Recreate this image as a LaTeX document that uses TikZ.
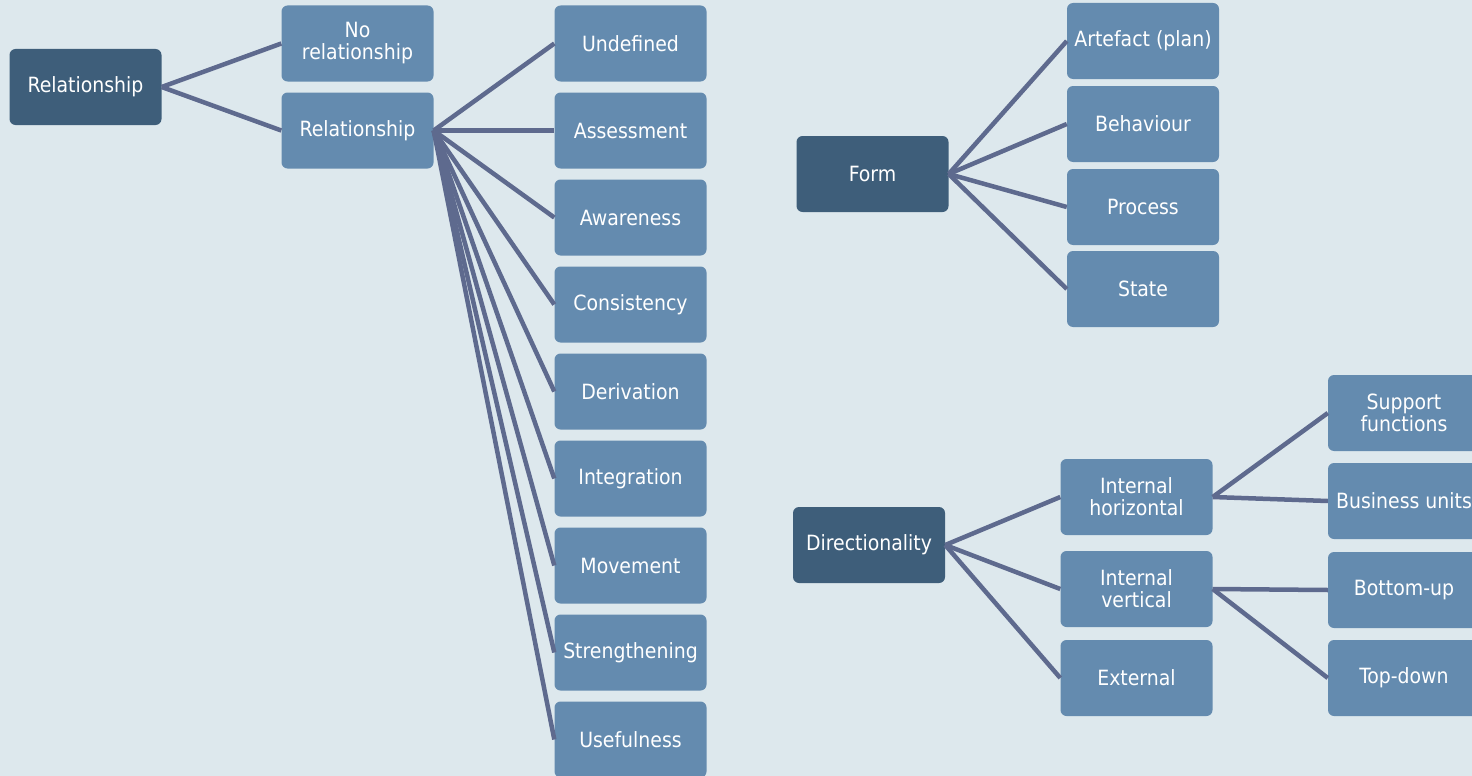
\documentclass[tikz,border=0pt]{standalone}
\usepackage{fontspec}
\setmainfont{DejaVu Sans Condensed}
\begin{document}
\begin{tikzpicture}[x=1pt,y=-1pt,
  box/.style={rounded corners=6pt, minimum width=152pt, minimum height=76pt,
    inner sep=2pt, align=center, text=white,
    font=\fontsize{21}{22}\selectfont},
  rootbox/.style={box, fill=rootblue},
  leafbox/.style={box, fill=leafblue},
  link/.style={draw=linkslate, line width=4.5pt}]
\definecolor{bgcol}{HTML}{DDE8ED}
\definecolor{rootblue}{HTML}{3E5E7A}
\definecolor{leafblue}{HTML}{648BAF}
\definecolor{linkslate}{HTML}{5E6A8E}
\fill[bgcol] (0,0) rectangle (1472,776);
\useasboundingbox (0,0) rectangle (1472,776);
\begin{scope}
\clip (0,0) rectangle (1472,776);

% Relationship tree
\node[rootbox] (rel) at (85.5,87) {Relationship};
\node[leafbox] (norel) at (357.5,43.5) {No\\relationship};
\node[leafbox] (yesrel) at (357.5,130.5) {Relationship};
\foreach \t [count=\i from 0] in {Undefined,Assessment,Awareness,Consistency,Derivation,Integration,Movement,Strengthening,Usefulness}
  \node[leafbox] (kind\i) at (630.5,43.5+87*\i) {\t};

% Form tree
\node[rootbox] (form) at (872.5,174) {Form};
\node[leafbox] (artefact) at (1143,41) {Artefact (plan)};
\node[leafbox] (behaviour) at (1143,124) {Behaviour};
\node[leafbox] (process) at (1143,207) {Process};
\node[leafbox] (state) at (1143,289) {State};

% Directionality tree
\node[rootbox] (dir) at (869,545) {Directionality};
\node[leafbox] (inhor) at (1136.5,497) {Internal\\horizontal};
\node[leafbox] (invert) at (1136.5,589) {Internal\\vertical};
\node[leafbox] (external) at (1136.5,678) {External};
\node[leafbox] (support) at (1404,413) {Support\\functions};
\node[leafbox] (business) at (1404,501) {Business units};
\node[leafbox] (bottomup) at (1404,590) {Bottom-up};
\node[leafbox] (topdown) at (1404,678) {Top-down};

% Connectors
\draw[link] (rel.east) -- (norel.west);
\draw[link] (rel.east) -- (yesrel.west);
\foreach \i in {0,...,8}
  \draw[link] (yesrel.east) -- (kind\i.west);
\foreach \c in {artefact,behaviour,process,state}
  \draw[link] (form.east) -- (\c.west);
\foreach \c in {inhor,invert,external}
  \draw[link] (dir.east) -- (\c.west);
\draw[link] (inhor.east) -- (support.west);
\draw[link] (inhor.east) -- (business.west);
\draw[link] (invert.east) -- (bottomup.west);
\draw[link] (invert.east) -- (topdown.west);
\end{scope}
\end{tikzpicture}
\end{document}
